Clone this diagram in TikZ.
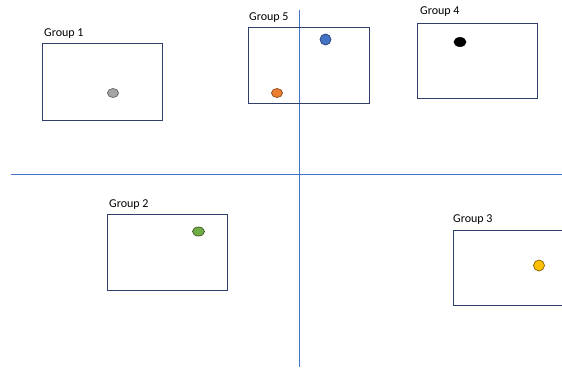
\documentclass[tikz,border=0pt]{standalone}
\usepackage{fontspec}
\setmainfont{Carlito}
\usetikzlibrary{shapes.geometric}
\definecolor{boxline}{HTML}{2F3F6A}
\definecolor{axisline}{HTML}{4472C4}
\definecolor{dotgray}{HTML}{A5A5A5}
\definecolor{dotorange}{HTML}{ED7D31}
\definecolor{dotblue}{HTML}{4472C4}
\definecolor{dotgreen}{HTML}{70AD47}
\definecolor{dotyellow}{HTML}{FFC000}
\begin{document}
\begin{tikzpicture}[x=1pt,y=-1pt,
  groupbox/.style={draw=boxline, line width=0.9pt},
  grouplabel/.style={anchor=west, inner sep=0pt, font=\fontsize{12}{13}\selectfont},
  axis/.style={draw=axisline, line width=1pt},
  dot/.style={ellipse, inner sep=0pt, minimum width=11pt, minimum height=9pt, line width=0.7pt},
]
\useasboundingbox[fill=white] (0,0) rectangle (562,367);

% quadrant axes
\coordinate (hl) at (11,174.5);
\coordinate (hr) at (562,174.5);
\coordinate (vt) at (299.5,10);
\coordinate (vb) at (299.5,367);
\draw[axis] (hl) -- (hr);
\draw[axis] (vt) -- (vb);

% group boxes
\draw[groupbox] (42,43) rectangle (162,120);
\draw[groupbox] (248,27) rectangle (369,103);
\draw[groupbox] (417,23) rectangle (537,98);
\draw[groupbox] (107,214) rectangle (227,290);
\draw[groupbox] (453,230) rectangle (570,305);

% group labels
\node[grouplabel] (g1) at (44,34) {Group 1};
\node[grouplabel] (g5) at (249,18) {Group 5};
\node[grouplabel] (g4) at (420,12) {Group 4};
\node[grouplabel] (g2) at (109,205) {Group 2};
\node[grouplabel] (g3) at (453,220) {Group 3};

% members
\node[dot, draw=black!60, fill=dotgray] (p1) at (113,93) {};
\node[dot, draw=dotblue!60!black, fill=dotblue, minimum width=11pt, minimum height=11pt] (p5a) at (325.5,39.5) {};
\node[dot, draw=dotorange!60!black, fill=dotorange] (p5b) at (277,93) {};
\node[dot, draw=black, fill=black, minimum width=12pt] (p4) at (460,42) {};
\node[dot, draw=dotgreen!50!black, fill=dotgreen, minimum width=12pt] (p2) at (198.5,231.5) {};
\node[dot, draw=dotyellow!50!black, fill=dotyellow, minimum width=11pt, minimum height=11pt] (p3) at (539,265.5) {};
\end{tikzpicture}
\end{document}
